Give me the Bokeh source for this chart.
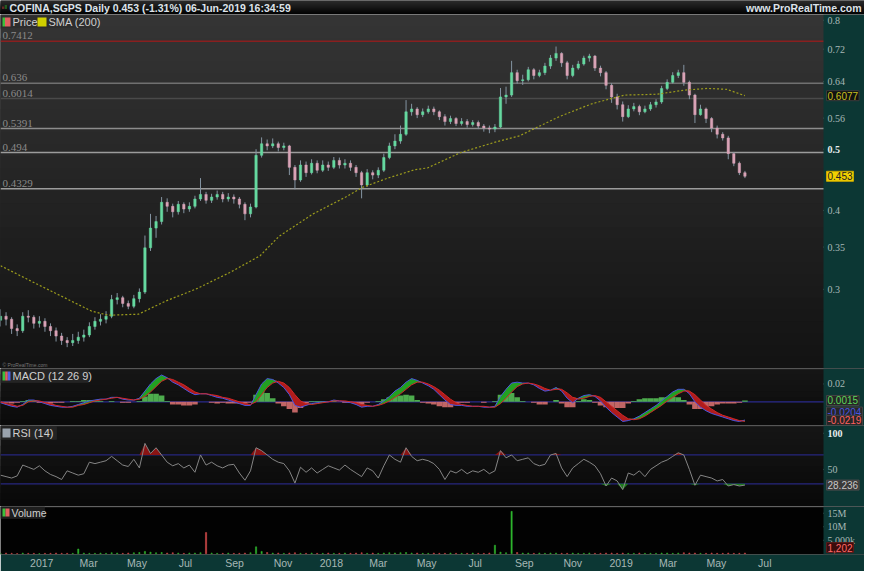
import numpy as np
import pandas as pd
from bokeh.plotting import figure
from bokeh.models import (ColumnDataSource, Span, Label, LabelSet, BoxAnnotation,
                          FixedTicker, Range1d)
from bokeh.core.properties import field
from bokeh.layouts import column
from bokeh.embed import file_html
from bokeh.resources import INLINE

# ---------------- data (weekly) ----------------
week_start = "2016-11-10"
first_open = 0.268
closes = [0.272,0.269,0.260,0.258,0.272,0.271,0.265,0.267,0.262,0.258,
          0.253,0.249,0.247,0.249,0.252,0.254,0.262,0.267,0.269,0.272,
          0.289,0.291,0.285,0.282,0.290,0.297,0.349,0.375,0.384,0.412,
          0.406,0.398,0.409,0.402,0.406,0.417,0.424,0.415,0.420,0.424,
          0.417,0.420,0.417,0.409,0.395,0.405,0.489,0.510,0.506,0.510,
          0.503,0.506,0.468,0.447,0.472,0.459,0.475,0.463,0.472,0.468,
          0.480,0.472,0.475,0.468,0.459,0.439,0.459,0.455,0.463,0.485,
          0.506,0.515,0.528,0.573,0.579,0.567,0.573,0.579,0.573,0.563,
          0.553,0.559,0.549,0.553,0.547,0.551,0.544,0.540,0.538,0.542,
          0.605,0.609,0.661,0.642,0.644,0.668,0.654,0.661,0.677,0.697,
          0.709,0.685,0.654,0.672,0.682,0.697,0.702,0.672,0.661,0.631,
          0.605,0.588,0.563,0.579,0.584,0.573,0.579,0.588,0.594,0.624,
          0.638,0.654,0.661,0.638,0.609,0.567,0.579,0.559,0.540,0.528,
          0.521,0.492,0.475,0.459,0.453]
highs = [0.279,0.276,0.271,0.264,0.276,0.278,0.273,0.272,0.270,0.265,
         0.261,0.256,0.252,0.255,0.257,0.259,0.266,0.271,0.274,0.277,
         0.294,0.296,0.293,0.288,0.294,0.301,0.365,0.395,0.392,0.420,
         0.418,0.410,0.414,0.412,0.412,0.422,0.450,0.428,0.425,0.430,
         0.428,0.426,0.424,0.420,0.412,0.410,0.500,0.522,0.518,0.520,
         0.514,0.512,0.508,0.472,0.480,0.478,0.482,0.480,0.480,0.478,
         0.486,0.485,0.482,0.480,0.472,0.462,0.465,0.463,0.468,0.492,
         0.512,0.528,0.545,0.598,0.590,0.583,0.580,0.586,0.584,0.576,
         0.568,0.565,0.562,0.560,0.558,0.556,0.555,0.548,0.545,0.548,
         0.625,0.628,0.690,0.668,0.656,0.675,0.672,0.668,0.685,0.705,
         0.727,0.712,0.690,0.680,0.690,0.703,0.708,0.705,0.678,0.665,
         0.636,0.612,0.595,0.587,0.592,0.588,0.586,0.594,0.600,0.630,
         0.645,0.662,0.668,0.680,0.642,0.612,0.588,0.582,0.562,0.545,
         0.532,0.525,0.495,0.478,0.462]
lows = [0.262,0.263,0.255,0.253,0.256,0.266,0.260,0.261,0.257,0.253,
        0.248,0.245,0.243,0.244,0.246,0.248,0.252,0.259,0.263,0.265,
        0.270,0.284,0.281,0.279,0.280,0.286,0.295,0.345,0.362,0.380,
        0.398,0.390,0.394,0.396,0.398,0.403,0.414,0.410,0.411,0.416,
        0.412,0.413,0.410,0.403,0.386,0.390,0.403,0.485,0.498,0.502,
        0.496,0.498,0.455,0.432,0.444,0.452,0.456,0.458,0.460,0.462,
        0.465,0.466,0.466,0.462,0.452,0.418,0.436,0.448,0.450,0.460,
        0.482,0.500,0.510,0.525,0.565,0.560,0.562,0.569,0.566,0.556,
        0.545,0.548,0.544,0.545,0.541,0.543,0.538,0.533,0.530,0.532,
        0.540,0.590,0.605,0.635,0.632,0.640,0.645,0.650,0.655,0.670,
        0.690,0.675,0.645,0.650,0.668,0.678,0.688,0.665,0.652,0.622,
        0.592,0.578,0.553,0.560,0.574,0.566,0.570,0.575,0.582,0.590,
        0.620,0.635,0.648,0.630,0.600,0.550,0.565,0.550,0.532,0.520,
        0.516,0.482,0.470,0.455,0.450]
volume_m = [0.2,0.3,0.2,0.1,0.3,0.2,0.2,0.1,0.2,0.2,
            0.3,0.2,0.2,0.2,1.8,0.3,0.2,0.2,0.3,0.2,
            0.4,0.3,0.2,0.3,0.4,0.5,0.9,0.6,0.4,0.5,
            0.3,0.4,0.3,0.2,0.3,0.3,0.4,7.9,0.3,0.2,
            0.2,0.3,0.2,0.2,0.3,0.4,2.6,0.9,0.5,0.3,
            0.3,0.2,0.3,0.4,0.2,0.2,0.3,0.2,0.2,0.3,
            0.2,0.2,0.3,0.2,0.3,0.4,0.2,0.3,0.2,0.3,
            0.4,0.3,0.4,0.5,0.3,0.3,0.2,0.2,0.3,0.2,
            0.2,0.3,0.2,0.2,0.2,0.3,0.2,0.2,0.3,3.2,
            0.6,0.4,15.7,0.5,0.3,0.3,0.2,0.3,0.2,0.3,
            0.3,0.2,0.2,0.3,0.2,0.2,0.3,0.2,0.2,0.3,
            0.3,0.2,0.3,0.2,0.2,0.3,0.2,0.2,0.2,0.3,
            0.3,0.2,0.3,0.4,0.3,0.3,0.2,0.2,0.3,0.2,
            0.2,0.3,0.2,0.2,0.3]
macd = [-0.001,-0.003,-0.005,-0.006,-0.003,0.002,0.002,0.000,-0.002,-0.004,
        -0.005,-0.006,-0.006,-0.005,-0.003,-0.001,0.001,0.002,0.003,0.003,
        0.005,0.005,0.003,0.002,0.002,0.004,0.012,0.020,0.026,0.030,
        0.027,0.022,0.019,0.015,0.011,0.008,0.009,0.009,0.007,0.005,
        0.004,0.002,0.000,-0.002,-0.004,-0.004,0.008,0.020,0.026,0.025,
        0.021,0.016,0.008,-0.004,-0.006,-0.004,-0.002,-0.001,0.000,0.000,
        0.002,0.001,0.000,-0.001,-0.003,-0.006,-0.005,-0.005,-0.003,0.001,
        0.006,0.012,0.016,0.022,0.026,0.024,0.021,0.018,0.014,0.008,
        0.002,-0.003,-0.004,-0.004,-0.005,-0.005,-0.005,-0.006,-0.006,-0.005,
        0.006,0.014,0.021,0.022,0.021,0.021,0.019,0.015,0.012,0.013,
        0.016,0.012,0.004,-0.001,0.004,0.007,0.008,0.006,0.001,-0.006,
        -0.012,-0.017,-0.022,-0.021,-0.019,-0.016,-0.012,-0.008,-0.004,0.001,
        0.006,0.011,0.014,0.014,0.009,0.000,-0.006,-0.010,-0.013,-0.015,
        -0.017,-0.019,-0.021,-0.022,-0.0204]
signal = [0.000,-0.002,-0.003,-0.005,-0.004,0.000,0.001,0.001,-0.001,-0.002,
          -0.004,-0.005,-0.006,-0.006,-0.004,-0.003,-0.001,0.001,0.002,0.003,
          0.004,0.005,0.004,0.003,0.002,0.003,0.006,0.011,0.017,0.023,
          0.026,0.025,0.022,0.019,0.015,0.011,0.009,0.009,0.008,0.007,
          0.005,0.004,0.002,0.000,-0.002,-0.003,0.000,0.008,0.016,0.021,
          0.023,0.021,0.016,0.008,0.001,-0.002,-0.003,-0.002,-0.001,0.000,
          0.001,0.001,0.001,0.000,-0.001,-0.003,-0.004,-0.005,-0.004,-0.002,
          0.001,0.005,0.009,0.014,0.019,0.022,0.022,0.020,0.017,0.013,
          0.008,0.003,-0.001,-0.003,-0.004,-0.005,-0.005,-0.005,-0.006,-0.006,
          -0.002,0.004,0.011,0.017,0.020,0.021,0.020,0.018,0.015,0.013,
          0.014,0.014,0.010,0.005,0.003,0.004,0.006,0.007,0.005,0.000,
          -0.005,-0.010,-0.015,-0.019,-0.020,-0.019,-0.016,-0.012,-0.008,-0.004,
          0.001,0.005,0.009,0.012,0.012,0.008,0.002,-0.004,-0.008,-0.012,
          -0.015,-0.017,-0.019,-0.021,-0.0219]
rsi = [42,40,38,41,56,53,50,55,48,43,
       40,36,48,45,42,44,60,58,60,62,
       68,62,56,54,64,52,86,72,80,70,
       60,55,58,52,56,46,70,56,60,55,
       52,56,57,45,35,48,80,76,70,64,
       60,58,48,31,53,46,52,45,50,55,
       52,49,56,50,45,40,52,48,38,55,
       70,64,60,80,68,62,64,62,58,50,
       36,48,45,50,44,48,46,50,44,48,
       76,66,70,62,64,66,58,55,57,70,
       72,52,40,52,58,64,60,55,44,27,
       38,34,22,45,42,48,40,50,55,60,
       63,68,73,70,50,28,42,40,38,34,
       36,27,29,27,28.236]
sma_dates = ["2016-11-10","2016-12-21","2017-02-01","2017-03-05","2017-03-26","2017-05-03",
             "2017-06-05","2017-07-16","2017-08-26","2017-10-03","2017-10-27","2017-12-09",
             "2018-01-19","2018-02-09","2018-03-13","2018-04-16","2018-05-02","2018-06-13",
             "2018-07-24","2018-08-26","2018-10-15","2018-11-25","2019-01-05","2019-02-16",
             "2019-03-21","2019-04-20","2019-05-14","2019-06-06"]
sma_vals = [0.327,0.308,0.290,0.277,0.273,0.274,0.287,0.301,0.319,0.339,0.364,0.395,
            0.420,0.435,0.450,0.464,0.467,0.494,0.512,0.525,0.563,0.590,0.609,0.611,
            0.620,0.624,0.622,0.6077]
levels = [0.7412, 0.636, 0.6014, 0.5391, 0.494, 0.4329]
level_labels = ["0.7412", "0.636", "0.6014", "0.5391", "0.494", "0.4329"]
price_ticks = [0.3, 0.35, 0.4, 0.5, 0.56, 0.64, 0.72, 0.8]
price_tick_labels = ["0.3", "0.35", "0.4", "0.5", "0.56", "0.64", "0.72", "0.8"]
macd_ticks, macd_tick_labels = [0.02], ["0.02"]
rsi_ticks, rsi_tick_labels = [50, 100], ["50", "100"]
vol_ticks, vol_tick_labels = [5, 10, 15], ["5,000k", "10M", "15M"]
x_tick_dates = ["2017-01-01","2017-03-01","2017-05-01","2017-07-01","2017-09-01","2017-11-01",
                "2018-01-01","2018-03-01","2018-05-01","2018-07-01","2018-09-01","2018-11-01",
                "2019-01-01","2019-03-01","2019-05-01","2019-07-01"]
x_tick_labels = ["2017","Mar","May","Jul","Sep","Nov","2018","Mar","May","Jul","Sep","Nov",
                 "2019","Mar","May","Jul"]
last_price, last_sma = 0.453, 0.6077
last_hist, last_macd, last_signal = 0.0015, -0.0204, -0.0219
last_rsi = 28.236
last_volume_text = "1,202"
title = "COFINA,SGPS Daily 0.453 (-1.31%) 06-Jun-2019 16:34:59"

# ---------------- derived ----------------
dates = pd.date_range(week_start, periods=len(closes), freq="7D")
opens = [first_open] + closes[:-1]
up = [c >= o for o, c in zip(opens, closes)]
hist = np.array(macd) - np.array(signal)

W = 864
RW = 41
TEAL = "#0c3734"
AXC = "#a7b8b6"
FONT = "Liberation Sans"
DAY = 86400000
X0 = pd.Timestamp("2016-11-10")
X1 = pd.Timestamp("2019-09-13")          # right edge of the plotting area
span_days = (X1 - X0).days
X2 = X0 + pd.Timedelta(days=span_days * W / (W - RW))   # incl. the axis strip
XEND = X1.value / 1e6
xr = Range1d(start=X0, end=X2)


def hexc(rgb):
    return "#%02x%02x%02x" % tuple(int(round(v)) for v in rgb)


def gradient(p, lo, hi, top_rgb, bot_rgb, n=24, log=False):
    if log:
        edges = np.exp(np.linspace(np.log(lo), np.log(hi), n + 1))
    else:
        edges = np.linspace(lo, hi, n + 1)
    base = lo * 0.9 if log else lo - (hi - lo)
    for i in range(n - 1, -1, -1):
        t = (i + 0.5) / n
        c = [b + (a - b) * t for a, b in zip(top_rgb, bot_rgb)]
        p.add_layout(BoxAnnotation(bottom=base, top=edges[i + 1], fill_color=hexc(c),
                                   fill_alpha=1, line_color=None, level="underlay"))


def panel(h, yr, log=False, xaxis=False, bg="#101010"):
    p = figure(width=W, height=h, x_range=xr, y_range=yr, x_axis_type="datetime",
               y_axis_type="log" if log else "linear", y_axis_location=None,
               x_axis_location="below" if xaxis else None,
               output_backend="svg", toolbar_location=None,
               min_border_left=0, min_border_right=0, min_border_top=0,
               min_border_bottom=16 if xaxis else 0,
               border_fill_color=TEAL, background_fill_color=bg, outline_line_color=None)
    p.grid.visible = False
    return p


def axis_strip(p, ticks, labels, bold=()):
    # teal axis strip at the right, with tick marks and tick labels placed by the y scale
    p.add_layout(BoxAnnotation(left=XEND, fill_color=TEAL, fill_alpha=1, line_color=None))
    p.segment(x0=XEND, x1=XEND + 3.2 * DAY, y0=ticks, y1=ticks, line_color="#7f9c9a",
              line_width=1)
    src = ColumnDataSource(dict(y=ticks, t=labels,
                                fs=["bold" if l in bold else "normal" for l in labels],
                                c=["#e8eeee" if l in bold else AXC for l in labels]))
    p.add_layout(LabelSet(x=XEND, y="y", text="t", source=src, x_offset=4,
                          text_baseline="middle", text_color=field("c"), text_font=FONT,
                          text_font_size="10px", text_font_style=field("fs")))


def axis_box(p, y, text, bg, fg, border, yoff=0):
    p.add_layout(Label(x=XEND, y=y, x_offset=3, y_offset=yoff, text=text, text_align="left",
                       text_baseline="middle", text_color=fg, text_font=FONT,
                       text_font_size="10px", background_fill_color=bg,
                       border_line_color=border, padding=1))


def sbox(p, l, r, b, t, color, line=None):
    p.add_layout(BoxAnnotation(left=l, right=r, bottom=b, top=t, left_units="screen",
                               right_units="screen", bottom_units="screen", top_units="screen",
                               fill_color=color, fill_alpha=1, line_color=line))


def slabel(p, x, y, text, size="11px", color="#d0d0d0"):
    p.add_layout(Label(x=x, y=y, x_units="screen", y_units="screen", text=text,
                       text_baseline="middle", text_color=color, text_font=FONT,
                       text_font_size=size))


# ---------------- header ----------------
hdr = figure(width=W, height=14, x_range=Range1d(0, W), y_range=Range1d(0, 14),
             x_axis_location=None, y_axis_location=None, min_border=0,
             output_backend="svg", toolbar_location=None, background_fill_color="#000000",
             border_fill_color="#000000", outline_line_color=None)
hdr.grid.visible = False
gradient(hdr, 0, 14, (0x2c, 0x2c, 0x2c), (0x00, 0x00, 0x00), n=14)
hdr.add_layout(BoxAnnotation(left=1.5, right=3.8, bottom=5.5, top=8, fill_color="#e04040",
                             line_color=None))
hdr.add_layout(BoxAnnotation(left=4.2, right=6.5, bottom=5.5, top=9.5, fill_color="#30c030",
                             line_color=None))
hdr.add_layout(Label(x=9, y=7, text=title, text_baseline="middle", text_color="#dde3ea",
                     text_font=FONT, text_font_size="10.5px", text_font_style="bold"))
hdr.add_layout(Label(x=W - 3, y=7, text="www.ProRealTime.com", text_align="right",
                     text_baseline="middle", text_color="#dde3ea", text_font=FONT,
                     text_font_size="10.5px", text_font_style="bold"))

# ---------------- price ----------------
PH = 354
pp = panel(PH, Range1d(0.2248, 0.817), log=True, bg="#242424")
gradient(pp, 0.2248, 0.817, (0x35, 0x35, 0x35), (0x12, 0x12, 0x12), n=30, log=True)
level_colors = ["#8a1f1f", "#707070", "#4a4a4a", "#8c8c8c", "#9c9c9c", "#9c9c9c"]
for lv, col in zip(levels, level_colors):
    pp.add_layout(Span(location=lv, dimension="width", line_color=col, line_width=1.4,
                       level="underlay"))
lsrc = ColumnDataSource(dict(y=levels, t=level_labels))
pp.add_layout(LabelSet(x=2, y="y", text="t", source=lsrc, x_units="screen", y_offset=2,
                       text_baseline="bottom", text_color="#8a8a8a", text_font=FONT,
                       text_font_size="11px"))

csrc = ColumnDataSource(dict(x=dates, h=highs, l=lows,
                             top=np.maximum(opens, closes), bot=np.minimum(opens, closes),
                             col=["#66d9a0" if u else "#d9a3b6" for u in up]))
pp.segment(x0="x", y0="l", x1="x", y1="h", source=csrc, line_color="#8494a2", line_width=1)
pp.vbar(x="x", width=3.0 * DAY, top="top", bottom="bot", source=csrc, fill_color="col",
        line_color="col", line_width=0.5)
pp.line(pd.to_datetime(sma_dates), sma_vals, line_color="#9c9c1c", line_dash="2 2",
        line_width=1.2)
axis_strip(pp, price_ticks, price_tick_labels, bold=("0.5",))
axis_box(pp, last_sma, "0.6077", "#111111", "#c8c020", "#3a3a3a")
axis_box(pp, last_price, "0.453", "#f2d000", "#222222", "#c8a800")
# legend
sbox(pp, 0, 99, PH - 14, PH - 1, "#2d2d2d", "#3d3d3d")
sbox(pp, 2, 4.5, PH - 12, PH - 3, "#3cc03c")
sbox(pp, 4.5, 10, PH - 12, PH - 3, "#e06060")
sbox(pp, 37, 46, PH - 12, PH - 3, "#d0d000")
slabel(pp, 12, PH - 7.5, "Price")
slabel(pp, 48, PH - 7.5, "SMA (200)")
slabel(pp, 2, 4, "\u00a9 ProRealTime.com", size="5px", color="#777777")

# ---------------- MACD ----------------
MH = 57
pm = panel(MH, Range1d(-0.0265, 0.0373), bg="#0f0f0f")
gradient(pm, -0.0265, 0.0373, (0x16, 0x16, 0x16), (0x0a, 0x0a, 0x0a), n=10)
pm.add_layout(Span(location=0.0373, dimension="width", line_color="#454545", line_width=1.5))
pm.add_layout(Span(location=0, dimension="width", line_color="#2a2a8c", line_width=1.3,
                   level="underlay"))
pm.vbar(x=dates, top=hist, bottom=0, width=7 * DAY,
        fill_color=["#58c858" if h >= 0 else "#e07474" for h in hist],
        line_color=None, fill_alpha=0.85)
m_arr, s_arr = np.array(macd), np.array(signal)
pm.varea(x=dates, y1=s_arr, y2=np.maximum(m_arr, s_arr), fill_color="#22a022")
pm.varea(x=dates, y1=m_arr, y2=np.maximum(m_arr, s_arr), fill_color="#b01c1c")
pm.line(dates, macd, line_color="#4a55e0", line_width=1.0)
pm.line(dates, signal, line_color="#d02828", line_width=1.0)
axis_strip(pm, macd_ticks, macd_tick_labels)
axis_box(pm, last_hist, "0.0015", "#262626", "#5cd65c", "#444444")
axis_box(pm, last_macd, "-0.0204", "#262626", "#4a55e0", "#444444", yoff=8)
axis_box(pm, last_signal, "-0.0219", "#262626", "#ff6060", "#444444", yoff=1)
sbox(pm, 0, 88, MH - 14, MH - 1, "#242424", "#333333")
sbox(pm, 2, 4.7, MH - 12, MH - 3, "#3cc03c")
sbox(pm, 4.7, 7.3, MH - 12, MH - 3, "#e06060")
sbox(pm, 7.3, 10, MH - 12, MH - 3, "#5060e0")
slabel(pm, 12, MH - 7.5, "MACD (12 26 9)")

# ---------------- RSI ----------------
RH = 81
pr = panel(RH, Range1d(-1.4, 110.8), bg="#0e0e0e")
gradient(pr, -1.4, 110.8, (0x16, 0x16, 0x16), (0x08, 0x08, 0x08), n=12)
pr.add_layout(Span(location=110.8, dimension="width", line_color="#454545", line_width=1.5))
for lv in (70, 30):
    pr.add_layout(Span(location=lv, dimension="width", line_color="#26267e", line_width=1.3,
                       level="underlay"))
r_arr = np.array(rsi, dtype=float)
pr.varea(x=dates, y1=70, y2=np.maximum(r_arr, 70), fill_color="#8a1414")
pr.varea(x=dates, y1=np.minimum(r_arr, 30), y2=30, fill_color="#1d7a1d")
pr.line(dates, rsi, line_color="#858585", line_width=1)
axis_strip(pr, rsi_ticks, rsi_tick_labels, bold=("100",))
axis_box(pr, last_rsi, "28.236", "#3a3a3a", "#c8c8c8", "#4a4a4a")
sbox(pr, 0, 56, RH - 14, RH - 1, "#242424", "#333333")
sbox(pr, 2, 10, RH - 12, RH - 3, "#9aa3ad")
slabel(pr, 12, RH - 7.5, "RSI (14)")

# ---------------- volume ----------------
VH = 65
VF = VH - 16
pv = panel(VH, Range1d(-0.25, 17.5), xaxis=True, bg="#020202")
pv.add_layout(Span(location=17.5, dimension="width", line_color="#454545", line_width=1.5))
vcol = ["#2fb52f" if u else "#d24a4a" for u in up]
pv.vbar(x=dates, top=volume_m, bottom=0, width=1.6 * DAY, fill_color=vcol,
        line_color=vcol, line_width=0.5)
axis_strip(pv, vol_ticks, vol_tick_labels)
axis_box(pv, 2.3, last_volume_text, "#3a0c0c", "#ff6a6a", "#5a1a1a")
sbox(pv, 0, 44, VF - 13, VF - 1, "#1e1e1e", "#333333")
sbox(pv, 2, 5, VF - 11, VF - 3, "#3cc03c")
sbox(pv, 5, 9, VF - 11, VF - 3, "#e06060")
slabel(pv, 11, VF - 7, "Volume", size="10.5px")

xt_ms = [int(pd.Timestamp(d).value // 10**6) for d in x_tick_dates]
xa = pv.xaxis[0]
xa.ticker = FixedTicker(ticks=xt_ms)
xa.major_label_overrides = {t: l for t, l in zip(xt_ms, x_tick_labels)}
xa.axis_line_color = None
xa.major_tick_line_color = None
xa.major_tick_out = 0
xa.major_tick_in = 0
xa.minor_tick_line_color = None
xa.minor_tick_out = 0
xa.major_label_text_color = AXC
xa.major_label_text_font = FONT
xa.major_label_text_font_size = "10.5px"
xa.major_label_standoff = 2

layout = column(hdr, pp, pm, pr, pv, spacing=0)
open("out.html", "w").write(file_html(layout, INLINE))
